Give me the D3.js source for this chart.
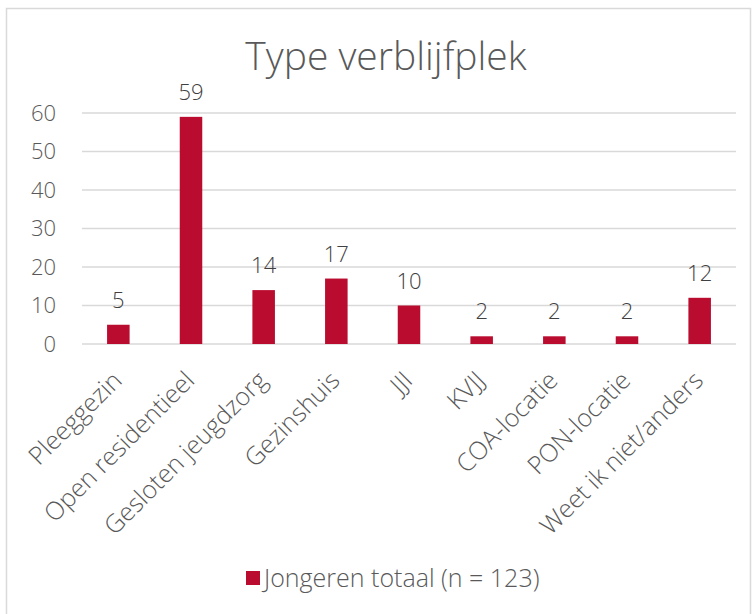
<!DOCTYPE html>
<html>
<head>
<meta charset="utf-8">
<script src="https://cdnjs.cloudflare.com/ajax/libs/d3/7.8.5/d3.min.js"></script>
<style>
  body { margin: 0; background: #fff; }
  svg { font-family: "Open Sans", sans-serif; font-weight: 350; }
</style>
</head>
<body>
<svg width="754" height="614"></svg>
<script>
const categories = [
  "Pleeggezin",
  "Open residentieel",
  "Gesloten jeugdzorg",
  "Gezinshuis",
  "JJI",
  "KVJJ",
  "COA-locatie",
  "PON-locatie",
  "Weet ik niet/anders"
];
const values = [5, 59, 14, 17, 10, 2, 2, 2, 12];
const yTicks = [0, 10, 20, 30, 40, 50, 60];
const seriesName = "Jongeren totaal (n = 123)";
const title = "Type verblijfplek";

const BAR = "#BA0C2F";
const TEXT = "#595959";

const svg = d3.select("svg");

// chart frame
svg.append("rect")
  .attr("x", 6.5).attr("y", 8.5)
  .attr("width", 744).attr("height", 640)
  .attr("fill", "none")
  .attr("stroke", "#d9d9d9")
  .attr("stroke-width", 1.5);

const plotL = 82, plotR = 736, plotT = 113, plotB = 344;

const x = d3.scaleBand()
  .domain(categories)
  .range([plotL, plotR])
  .paddingInner(0.69)
  .paddingOuter(0.345);

const y = d3.scaleLinear()
  .domain([0, 60])
  .range([plotB, plotT]);

// gridlines
svg.append("g")
  .selectAll("line")
  .data(yTicks)
  .enter()
  .append("line")
  .attr("x1", plotL).attr("x2", plotR)
  .attr("y1", d => y(d)).attr("y2", d => y(d))
  .attr("stroke", "#d9d9d9")
  .attr("stroke-width", 1.5);

// y tick labels
svg.append("g")
  .selectAll("text")
  .data(yTicks)
  .enter()
  .append("text")
  .attr("x", 56)
  .attr("y", d => y(d))
  .attr("dy", "0.36em")
  .attr("text-anchor", "end")
  .attr("fill", TEXT)
  .style("font-size", "22px")
  .text(d => d);

// bars
svg.append("g")
  .selectAll("rect")
  .data(values)
  .enter()
  .append("rect")
  .attr("x", (d, i) => x(categories[i]))
  .attr("y", d => y(d))
  .attr("width", x.bandwidth())
  .attr("height", d => plotB - y(d))
  .attr("fill", BAR);

// value labels
svg.append("g")
  .selectAll("text")
  .data(values)
  .enter()
  .append("text")
  .attr("x", (d, i) => x(categories[i]) + x.bandwidth() / 2)
  .attr("y", d => y(d) - 17)
  .attr("text-anchor", "middle")
  .attr("fill", "#404040")
  .style("font-size", "22px")
  .text(d => d);

// category labels
svg.append("g")
  .selectAll("text")
  .data(categories)
  .enter()
  .append("text")
  .attr("transform", d =>
    `translate(${x(d) + x.bandwidth() / 2 + 5},${plotB + 38}) rotate(-45)`)
  .attr("text-anchor", "end")
  .attr("fill", TEXT)
  .style("font-size", "25px")
  .text(d => d);

// title
svg.append("text")
  .attr("x", 386)
  .attr("y", 70)
  .attr("text-anchor", "middle")
  .attr("fill", TEXT)
  .style("font-size", "39px")
  .text(title);

// legend
const lg = svg.append("g");
lg.append("rect")
  .attr("x", 246).attr("y", 571)
  .attr("width", 14).attr("height", 14)
  .attr("fill", BAR);
lg.append("text")
  .attr("x", 264).attr("y", 587)
  .attr("fill", TEXT)
  .style("font-size", "25px")
  .text(seriesName);
</script>
</body>
</html>
